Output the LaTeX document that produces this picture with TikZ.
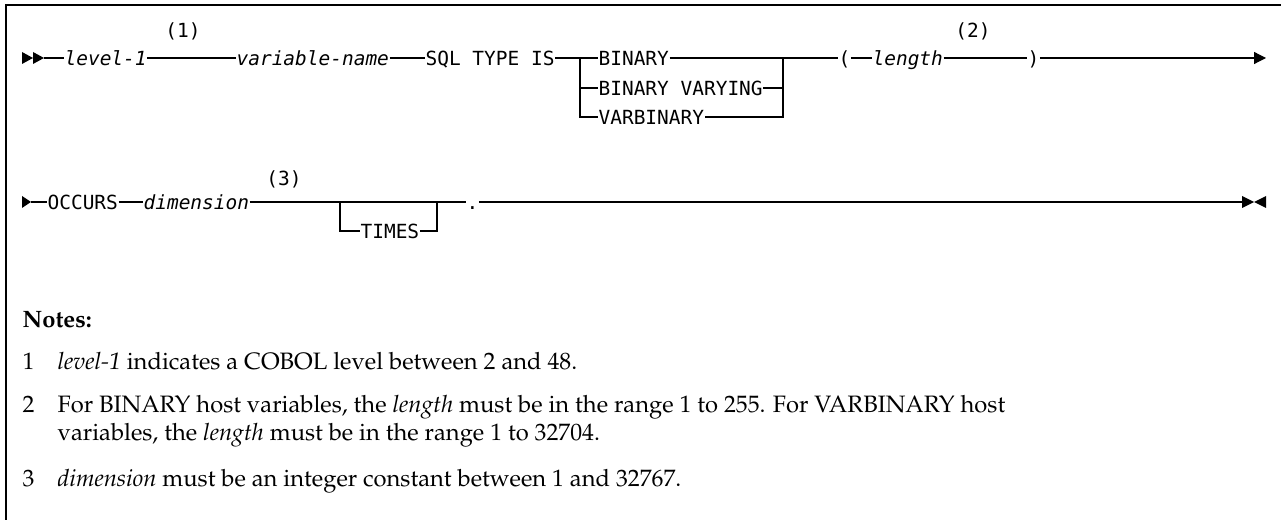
\documentclass[tikz,border=0pt]{standalone}
\usepackage[T1]{fontenc}
\usepackage{fontspec}
\setmonofont{DejaVu Sans Mono}
\newcommand{\palfont}{\fontencoding{T1}\fontfamily{ppl}\selectfont}
\usetikzlibrary{arrows.meta}

\begin{document}
\begin{tikzpicture}[x=0.75pt, y=-0.75pt, line width=0.9pt,
    tok/.style={font=\ttfamily\fontsize{14.6}{17}\selectfont, inner sep=0pt, anchor=west, text height=10.6pt, text depth=0pt},
    var/.style={tok, font=\ttfamily\itshape\fontsize{14.6}{17}\selectfont},
    noteref/.style={font=\ttfamily\fontsize{14.6}{17}\selectfont, inner sep=0pt},
    note/.style={font=\palfont\fontsize{17.8}{21}\selectfont, anchor=base west, inner sep=0pt},
    tip/.style={fill=black, draw=none}]
    \useasboundingbox (0,0) rectangle (1281,520);
    \draw[line width=1.1pt] (6,520) -- (6,5) -- (1281,5);

    % first line
    \fill[tip] (22,52) -- (33,58) -- (22,64) -- cycle;
    \fill[tip] (33,52) -- (44,58) -- (33,64) -- cycle;
    \coordinate (s1) at (44,58);
    \node[var] (lvl) at (64,58) {level-1};
    \node[noteref] (n1) at (183,31) {(1)};
    \node[var] (vname) at (236,58) {variable-name};
    \node[tok] (sql) at (425,58) {SQL TYPE IS};
    \coordinate (bl) at (580,58);
    \coordinate (br) at (783,58);
    \node[tok] (bin) at (598,58) {BINARY};
    \node[tok] (binv) at (598,88) {BINARY VARYING};
    \node[tok] (vbin) at (598,117) {VARBINARY};
    \node[tok] (lpar) at (838,58) {(};
    \node[var] (len) at (872,58) {length};
    \node[noteref] (n2) at (973,31) {(2)};
    \node[tok] (rpar) at (1027,58) {)};
    \coordinate (e1) at (1266,58);
    \draw (s1) -- (lvl.west);
    \draw (lvl.east) -- (vname.west);
    \draw (vname.east) -- (sql.west);
    \draw (sql.east) -- (bl) -- (bin.west);
    \draw (bl) |- (binv.west);
    \draw (bl) |- (vbin.west);
    \draw (bin.east) -- (br);
    \draw (br) |- (binv.east);
    \draw (br) |- (vbin.east);
    \draw (br) -- (lpar.west);
    \draw (lpar.east) -- (len.west);
    \draw (len.east) -- (rpar.west);
    \draw[-{Triangle[length=9pt,width=9pt]}] (rpar.east) -- (e1);

    % second line
    \fill[tip] (22,196) -- (31,202) -- (22,208) -- cycle;
    \coordinate (s2) at (31,202);
    \node[tok] (occ) at (47,202) {OCCURS};
    \node[var] (dim) at (143,202) {dimension};
    \node[noteref] (n3) at (284,179) {(3)};
    \coordinate (tl) at (340,202);
    \coordinate (tr) at (437,202);
    \node[tok] (times) at (360,231) {TIMES};
    \node[tok] (dot) at (466,202) {.};
    \coordinate (e2) at (1242,202);
    \draw (s2) -- (occ.west);
    \draw (occ.east) -- (dim.west);
    \draw (dim.east) -- (dot.west);
    \draw (tl) |- (times.west);
    \draw (times.east) -| (tr);
    \draw (dot.east) -- (e2);
    \fill[tip] (1242,196) -- (1254,202) -- (1242,208) -- cycle;
    \fill[tip] (1266,196) -- (1254,202) -- (1266,208) -- cycle;

    % notes
    \node[note] (notes) at (22,327) {\bfseries Notes:};
    \node[note] (k1) at (22,369) {1};
    \node[note] (t1) at (57,369) {\itshape level-1\upshape\ indicates a COBOL level between 2 and 48.};
    \node[note] (k2) at (22,412) {2};
    \node[note] (t2) at (57,412) {For BINARY host variables, the \textit{length} must be in the range 1 to 255. For VARBINARY host};
    \node[note] (t2b) at (57,440) {variables, the \textit{length} must be in the range 1 to 32704.};
    \node[note] (k3) at (22,486) {3};
    \node[note] (t3) at (57,486) {\textit{dimension} must be an integer constant between 1 and 32767.};
\end{tikzpicture}
\end{document}
